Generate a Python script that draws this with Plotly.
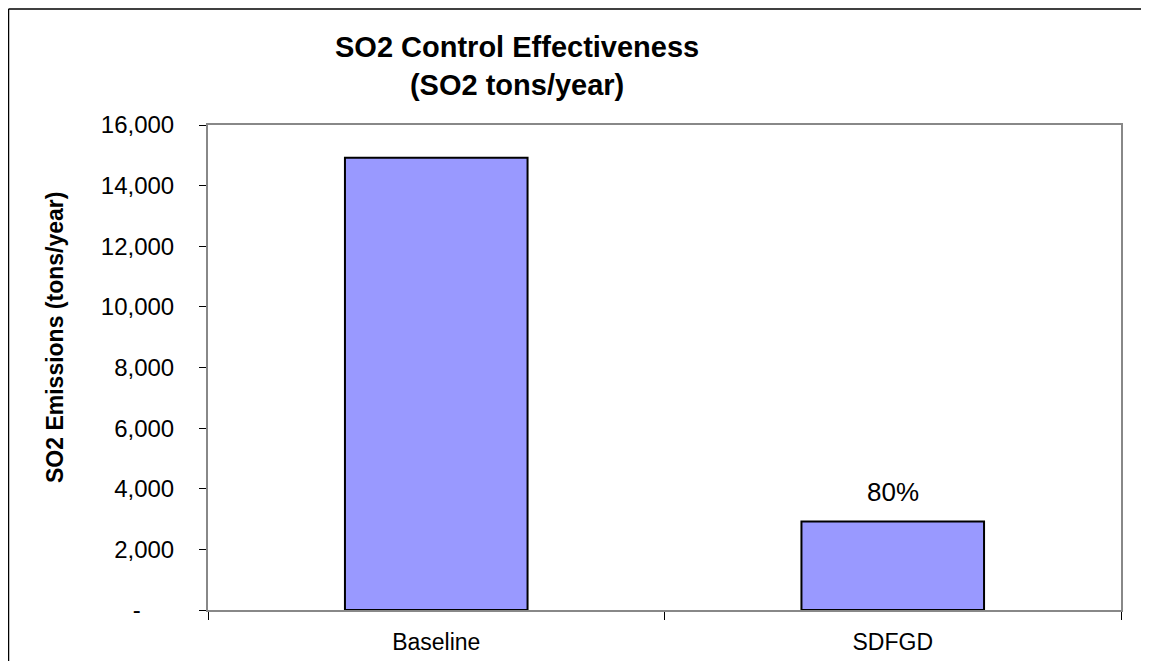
import plotly.graph_objects as go

categories = ["Baseline", "SDFGD"]
emissions = [14920, 2920]
reduction_labels = ["", "80%"]
y_tick_vals = [0, 2000, 4000, 6000, 8000, 10000, 12000, 14000, 16000]
y_tick_text = ["-\u00a0\u00a0\u00a0\u00a0\u00a0", "2,000", "4,000", "6,000", "8,000",
               "10,000", "12,000", "14,000", "16,000"]

# page body has an 8px margin on each side; figure sized to fit the window
OFF = 8
W, H = 1149 - 2 * OFF, 669 - 2 * OFF
L, T = 208 - OFF, 125 - OFF
PW, PH = 913, 485
R, B = W - L - PW, H - T - PH

def px_x(p):  # reference screen x -> paper
    return (p - OFF - L) / PW

def px_y(p):  # reference screen y -> paper
    return (T + PH - (p - OFF)) / PH

FONT = "Liberation Sans, Arial, sans-serif"

fig = go.Figure()
fig.add_trace(go.Bar(
    x=categories, y=emissions, width=0.4,
    marker=dict(color="#9999FF", line=dict(color="black", width=2)),
    hoverinfo="x+y", showlegend=False,
))

for c, v, t in zip(categories, emissions, reduction_labels):
    if t:
        fig.add_annotation(x=c, y=v, text=t, showarrow=False, yanchor="middle",
                           yshift=29, font=dict(family=FONT, size=26, color="black"))

fig.add_annotation(xref="paper", yref="paper", x=px_x(517), y=px_y(66),
                   text="<b>SO2 Control Effectiveness<br>(SO2 tons/year)</b>",
                   showarrow=False, xanchor="center", yanchor="middle",
                   font=dict(family=FONT, size=29, color="black"))

fig.add_annotation(xref="paper", yref="paper", x=px_x(55), y=px_y(338),
                   text="<b>SO2 Emissions (tons/year)</b>", textangle=-90,
                   showarrow=False, xanchor="center", yanchor="middle",
                   font=dict(family=FONT, size=23, color="black"))

# outer chart border (top and left visible)
fig.add_shape(type="line", xref="paper", yref="paper", x0=px_x(8.5), x1=px_x(1170),
              y0=px_y(9), y1=px_y(9), line=dict(color="black", width=1.5))
fig.add_shape(type="line", xref="paper", yref="paper", x0=px_x(8.5), x1=px_x(8.5),
              y0=px_y(9), y1=px_y(690), line=dict(color="black", width=1.5))

fig.update_layout(
    width=W, height=H,
    margin=dict(l=L, r=R, t=T, b=B, autoexpand=False),
    paper_bgcolor="white", plot_bgcolor="white",
    font=dict(family=FONT, size=24, color="black"),
)
fig.update_xaxes(
    showline=True, linecolor="#888888", linewidth=2, mirror=True,
    ticks="outside", tickson="boundaries", ticklen=8, tickcolor="black", tickwidth=1,
    ticklabelstandoff=10,
    tickfont=dict(family=FONT, size=23, color="black"),
    showgrid=False,
)
fig.update_yaxes(
    range=[0, 16000], tickvals=y_tick_vals, ticktext=y_tick_text,
    showline=True, linecolor="#888888", linewidth=2, mirror=True,
    ticks="outside", ticklen=7, tickcolor="black", tickwidth=1,
    ticklabelstandoff=20,
    tickfont=dict(family=FONT, size=24, color="black"),
    showgrid=False, zeroline=False,
)

fig.write_html("out.html")
